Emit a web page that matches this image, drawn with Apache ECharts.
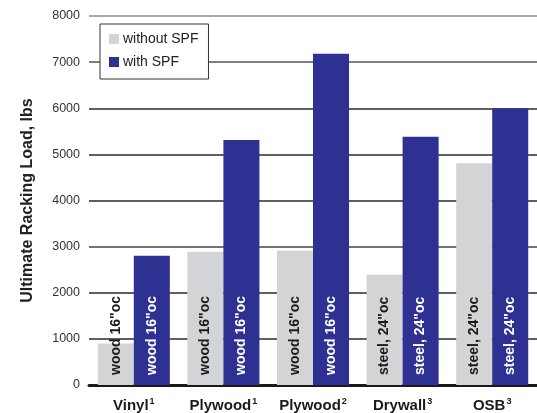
<!DOCTYPE html>
<html><head><meta charset="utf-8">
<script src="https://cdn.jsdelivr.net/npm/echarts@6/dist/echarts.min.js"></script>
<style>html,body{margin:0;padding:0;background:#fff}#c{width:537px;height:413px}</style>
</head><body><div id="c"></div>
<script>
const categories = ['Vinyl', 'Plywood', 'Plywood', 'Drywall', 'OSB'];
const notes = ['1', '1', '2', '3', '3'];
const withoutSPF = [900, 2890, 2910, 2390, 4810];
const withSPF = [2800, 5310, 7180, 5380, 6000];
const barLabels = ['wood 16"oc', 'wood 16"oc', 'wood 16"oc', 'steel, 24"oc', 'steel, 24"oc'];
const yTicks = [0, 1000, 2000, 3000, 4000, 5000, 6000, 7000, 8000];

const FONT = 'Liberation Sans, Arial, Helvetica, sans-serif';
const axisData = categories.map((c, i) => c + '|' + notes[i]);

function barLabel(color) {
  return {
    show: true, position: 'insideBottom', distance: 10, rotate: 90,
    align: 'left', verticalAlign: 'middle',
    formatter: p => barLabels[p.dataIndex],
    color: color, fontFamily: FONT, fontWeight: 'bold', fontSize: 14
  };
}

const chart = echarts.init(document.getElementById('c'));
chart.setOption({
  animation: false,
  backgroundColor: '#fff',
  grid: { left: 89, top: 16, width: 460, height: 369, containLabel: false },
  legend: {
    orient: 'vertical', left: 100, top: 24,
    backgroundColor: '#fff', borderColor: '#333', borderWidth: 1,
    padding: [8, 10, 10, 9], itemGap: 9,
    icon: 'rect', itemWidth: 10, itemHeight: 10,
    textStyle: { fontFamily: FONT, fontSize: 14, color: '#222', padding: [0, 0, 0, -1] },
    data: ['without SPF', 'with SPF']
  },
  xAxis: {
    type: 'category', data: axisData,
    axisLine: { lineStyle: { color: '#1a1a1a', width: 3 } },
    axisTick: { show: false },
    axisLabel: {
      margin: 12, interval: 0,
      formatter: v => { const [n, s] = v.split('|'); return '{n|' + n + '}{s|' + s + '}'; },
      rich: {
        n: { fontFamily: FONT, fontWeight: 'bold', fontSize: 15, color: '#1a1a1a' },
        s: { fontFamily: FONT, fontWeight: 'bold', fontSize: 9, color: '#1a1a1a', verticalAlign: 'top', padding: [0, 0, 8, 1] }
      }
    }
  },
  yAxis: {
    type: 'value', min: yTicks[0], max: yTicks[yTicks.length - 1], interval: 1000,
    name: 'Ultimate Racking Load, lbs', nameLocation: 'middle', nameGap: 53, nameRotate: 90,
    nameTextStyle: { fontFamily: FONT, fontWeight: 'bold', fontSize: 16, color: '#222' },
    axisLine: { show: false }, axisTick: { show: false },
    axisLabel: { margin: 9, fontFamily: FONT, fontSize: 12.5, color: '#333', formatter: v => String(v) },
    splitLine: { lineStyle: { color: ['#1a1a1a', '#2a2a2a', '#2a2a2a', '#444', '#2a2a2a', '#2a2a2a', '#2a2a2a', '#555', '#8c8c8c'], width: 1.5 } }
  },
  series: [
    { name: 'without SPF', type: 'bar', data: withoutSPF, barGap: '0%', barCategoryGap: '19.6%',
      itemStyle: { color: '#d3d4d6' }, label: barLabel('#1a1a1a') },
    { name: 'with SPF', type: 'bar', data: withSPF,
      itemStyle: { color: '#2e3192' }, label: barLabel('#ffffff') }
  ]
});
</script></body></html>
